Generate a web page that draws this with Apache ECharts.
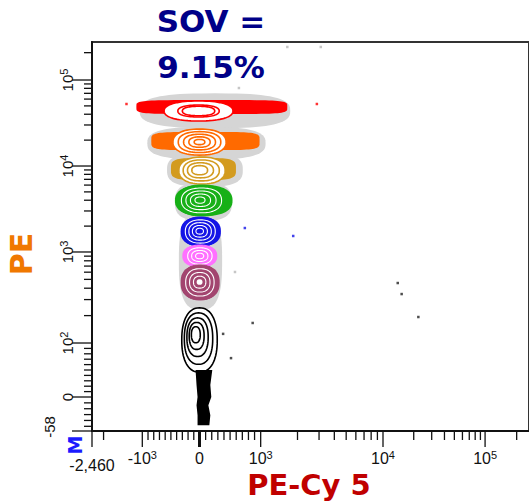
<!DOCTYPE html>
<html><head><meta charset="utf-8">
<script src="https://cdn.jsdelivr.net/npm/echarts@6/dist/echarts.min.js"></script>
<style>html,body{margin:0;padding:0;background:#fff}#c{width:529px;height:502px}</style>
</head><body><div id="c"></div>
<script>
// ================= DATA =================
// populations: modal value and outer-contour / dense-event bounds (PE-Cy 5 = x, PE = y)
const popNames   = ['Red','Orange','Gold','Green','Blue','Pink','Maroon','Black'];
const popModeX   = [-17, 0, -17, 0, 0, 0, 0, -86];
const popModeY   = [43600, 19000, 8980, 4020, 1750, 904, 468, 129];
const contourXLo = [-619, -464, -361, -396, -310, -275, -310, -310];
const contourXHi = [547, 435, 419, 451, 322, 274, 306, 290];
const contourYLo = [33400, 13400, 6180, 2620, 1170, 684, 297, 46];
const contourYHi = [57000, 26900, 12700, 6010, 2550, 1205, 720, 243];
const bandXLo    = [-1112, -843, -499, -430, -330, -300, -330, -310];
const bandXHi    = [1651, 982, 596, 540, 350, 290, 330, 290];
const bandYLo    = [40200, 15300, 6870, 2620, 1170, 684, 297, 46];
const bandYHi    = [58500, 24900, 12400, 6010, 2550, 1205, 720, 243];
// grey (ungated) event clouds
const haloXLo = [-1049, -912, -568, -430, -361];
const haloXHi = [1745, 1097, 708, 531, 370];
const haloYLo = [27500, 11900, 5700, 2300, 231];
const haloYHi = [70000, 28500, 14200, 6400, 2920];
// dense black stem of unstained events (profile: PE level, PE-Cy5 low / high)
const stemY     = [50, 22, 0, -14, -31, -48];
const stemXLeft = [-69, -52, -34, -52, -34, -34];
const stemXRight= [209, 177, 193, 145, 177, 161];
// stray single events
const strayX   = [1651, 3100, 644, 580, 2880, -1327, 741, 1845, 386, 869, 515, 13940, 15230, 22200];
const strayY   = [231000, 231000, 80700, 603, 52600, 52600, 1900, 1535, 126, 166, 72, 456, 345, 193];
const strayPop = ['Grey','Grey','Grey','Grey','Red','Red','Blue','Blue','Black','Black','Black','Black','Black','Black'];
// axis ticks
const xMajorTicks  = [-2460, -1000, 0, 1000, 10000, 100000];
const xMajorLabels = ['-2,460', '-10^3', '0', '10^3', '10^4', '10^5'];
const xMinorTicks  = [-2000, -900, -800, -700, -600, -500, -400, -300, -200, -100,
  100, 200, 300, 400, 500, 600, 700, 800, 900,
  2000, 3000, 4000, 5000, 6000, 7000, 8000, 9000,
  20000, 30000, 40000, 50000, 60000, 70000, 80000, 90000, 200000];
const yMajorTicks  = [-58, 0, 100, 1000, 10000, 100000];
const yMajorLabels = ['-58', '0', '10^2', '10^3', '10^4', '10^5'];
const yMinorTicks  = [-50, -40, -30, -20, -10, 10, 20, 30, 40, 50, 60, 70, 80, 90,
  200, 300, 400, 500, 600, 700, 800, 900,
  2000, 3000, 4000, 5000, 6000, 7000, 8000, 9000,
  20000, 30000, 40000, 50000, 60000, 70000, 80000, 90000, 200000];
// biexponential display scale definition (knot values -> fraction of axis)
const xScaleKnotValues = [-2460, -1000, 0, 1000, 10000, 100000, 262144];
const xScaleKnotFrac   = [0, 0.1151, 0.2460, 0.3860, 0.6659, 0.8995, 1];
const yScaleKnotValues = [-58, 0, 100, 1000, 10000, 100000, 262144];
const yScaleKnotFrac   = [0, 0.0874, 0.2262, 0.4602, 0.6812, 0.9023, 1];

// ================= STYLES =================
const popStyle = {
  Red:    {color:'#ff0000', kind:'open',  rings:[1, 0.6, 0.47], bandN:5},
  Orange: {color:'#ff6a00', kind:'open',  rings:[1, 0.8, 0.6, 0.4, 0.2], bandN:5},
  Gold:   {color:'#d39b1f', kind:'open',  rings:[1, 0.78, 0.56, 0.34], bandN:4},
  Green:  {color:'#17b017', kind:'dense', rings:[0.8, 0.6, 0.4, 0.2], bandN:2.4},
  Blue:   {color:'#1414e6', kind:'dense', rings:[0.8, 0.6, 0.4, 0.2], bandN:2.4},
  Pink:   {color:'#ff70ff', kind:'dense', rings:[0.75, 0.5, 0.25], bandN:2.4},
  Maroon: {color:'#a2456f', kind:'dense', rings:[0.78, 0.56, 0.34], bandN:2.4, hole:0.16},
  Black:  {color:'#000000', kind:'open',  rings:[1, 0.8, 0.6, 0.42, 0.25], bandN:2.2}
};
const strayColor = {Grey:'#b8b8b8', Red:'#ff0000', Blue:'#1414e6', Black:'#222'};
const LABEL_FONT = '"Liberation Sans", Arial, sans-serif';
const AXIS_COLOR = '#111';

// ================= SCALE =================
function makeScale(kv, kf, lin) {
  const u = v => Math.abs(v) <= lin ? v / lin : Math.sign(v) * (1 + Math.log10(Math.abs(v) / lin));
  const ku = kv.map(u);
  return v => {
    const uv = u(v); let i = 0;
    while (i < ku.length - 2 && uv > ku[i + 1]) i++;
    return kf[i] + (uv - ku[i]) / (ku[i + 1] - ku[i]) * (kf[i + 1] - kf[i]);
  };
}
const Tx = makeScale(xScaleKnotValues, xScaleKnotFrac, 1000);
const Ty = makeScale(yScaleKnotValues, yScaleKnotFrac, 100);

function sePts(cx, cy, rx, ry, n) {
  const pts = [];
  for (let k = 0; k < 72; k++) {
    const t = k / 72 * 2 * Math.PI, c = Math.cos(t), s = Math.sin(t);
    pts.push([cx + rx * Math.sign(c) * Math.pow(Math.abs(c), 2 / n),
              cy + ry * Math.sign(s) * Math.pow(Math.abs(s), 2 / n)]);
  }
  return pts;
}
function boxOf(api) {
  const a = api.coord([api.value(0), api.value(3)]);
  const b = api.coord([api.value(1), api.value(2)]);
  return {cx:(a[0]+b[0])/2, cy:(a[1]+b[1])/2, rx:Math.abs(b[0]-a[0])/2, ry:Math.abs(b[1]-a[1])/2};
}

const measureCtx = document.createElement('canvas').getContext('2d');
function textW(t, font) { measureCtx.font = font; return measureCtx.measureText(t).width; }

// label pieces: base + superscript
function labelChildren(lbl, baseSize, supSize) {
  const parts = lbl.split('^');
  const fb = baseSize + 'px ' + LABEL_FONT, fs = supSize + 'px ' + LABEL_FONT;
  const wb = textW(parts[0], fb), ws = parts[1] ? textW(parts[1], fs) : 0;
  const x0 = -(wb + ws) / 2;
  const ch = [{type:'text', style:{text:parts[0], x:x0, y:0, font:fb, fill:'#111',
      align:'left', textAlign:'left', verticalAlign:'bottom', textVerticalAlign:'bottom'}}];
  if (parts[1]) ch.push({type:'text', style:{text:parts[1], x:x0 + wb, y:-6, font:fs, fill:'#111',
      align:'left', textAlign:'left', verticalAlign:'bottom', textVerticalAlign:'bottom'}});
  return ch;
}

const chart = echarts.init(document.getElementById('c'), null, {renderer:'svg'});

const popData = popNames.map((n, i) => [Tx(contourXLo[i]), Tx(contourXHi[i]), Ty(contourYLo[i]), Ty(contourYHi[i]), Tx(popModeX[i]), Ty(popModeY[i])]);
const bandData = popNames.map((n, i) => [Tx(bandXLo[i]), Tx(bandXHi[i]), Ty(bandYLo[i]), Ty(bandYHi[i])]);
const haloData = haloXLo.map((v, i) => [Tx(haloXLo[i]), Tx(haloXHi[i]), Ty(haloYLo[i]), Ty(haloYHi[i])]);
const stemData = stemY.map((v, i) => [Tx(stemXLeft[i]), Tx(stemXRight[i]), Ty(stemY[i])]);
const strayData = strayX.map((v, i) => ({value:[Tx(strayX[i]), Ty(strayY[i])], itemStyle:{color:strayColor[strayPop[i]]}}));
const xTickData = xMajorTicks.map((v, i) => [Tx(v), 0, 1, i, v]).concat(xMinorTicks.map(v => [Tx(v), 0, 0, -1, v]));
const yTickData = yMajorTicks.map((v, i) => [0, Ty(v), 1, i, v]).concat(yMinorTicks.map(v => [0, Ty(v), 0, -1, v]));

const option = {
  animation: false,
  backgroundColor: '#fff',
  grid: {left: 92, top: 42, width: 443, height: 389, show: true, borderColor: '#333', borderWidth: 2, backgroundColor: 'transparent'},
  xAxis: {type:'value', min:0, max:1, axisLine:{show:true, onZero:false, lineStyle:{color:AXIS_COLOR, width:2}},
          axisTick:{show:false}, axisLabel:{show:false}, splitLine:{show:false}},
  yAxis: {type:'value', min:0, max:1, axisLine:{show:true, onZero:false, lineStyle:{color:AXIS_COLOR, width:2}},
          axisTick:{show:false}, axisLabel:{show:false}, splitLine:{show:false}},
  graphic: [
    {type:'text', x:211, y:21, style:{text:'SOV =', font:'bold 31px "DejaVu Sans"', fill:'#000088', align:'center', textAlign:'center', verticalAlign:'middle', textVerticalAlign:'middle'}},
    {type:'text', x:211, y:67, style:{text:'9.15%', font:'bold 31px "DejaVu Sans"', fill:'#000088', align:'center', textAlign:'center', verticalAlign:'middle', textVerticalAlign:'middle'}},
    {type:'text', x:21, y:254, rotation:Math.PI/2, style:{text:'PE', font:'bold 30px "DejaVu Sans"', fill:'#f07800', align:'center', textAlign:'center', verticalAlign:'middle', textVerticalAlign:'middle'}},
    {type:'text', x:309, y:485, style:{text:'PE-Cy 5', font:'bold 29px "DejaVu Sans"', fill:'#c00000', align:'center', textAlign:'center', verticalAlign:'middle', textVerticalAlign:'middle'}},
    {type:'text', x:75, y:445, rotation:Math.PI/2, style:{text:'M', font:'bold 19px "DejaVu Sans"', fill:'#1a1aff', align:'center', textAlign:'center', verticalAlign:'middle', textVerticalAlign:'middle'}}
  ],
  series: [
    { // grey event clouds
      type:'custom', clip:false, data: haloData, encode:{x:[0,1], y:[2,3]},
      renderItem(params, api) {
        const b = boxOf(api);
        return {type:'polygon', shape:{points: sePts(b.cx, b.cy, b.rx, b.ry, 2.8)}, style:{fill:'#d5d5d5', stroke:null}};
      }
    },
    { // coloured dense events
      type:'custom', clip:false, data: bandData, encode:{x:[0,1], y:[2,3]},
      renderItem(params, api) {
        const st = popStyle[popNames[params.dataIndex]];
        const b = boxOf(api);
        return {type:'polygon', shape:{points: sePts(b.cx, b.cy, b.rx, b.ry, st.bandN)}, style:{fill:st.color, stroke:null}};
      }
    },
    { // contour rings
      type:'custom', clip:false, data: popData, encode:{x:[0,1,4], y:[2,3,5]},
      renderItem(params, api) {
        const st = popStyle[popNames[params.dataIndex]];
        const b = boxOf(api);
        const m = api.coord([api.value(4), api.value(5)]);
        const ring = s => sePts(m[0] + s * (b.cx - m[0]), m[1] + s * (b.cy - m[1]), s * b.rx, s * b.ry, 2.3);
        const ch = [];
        if (st.kind === 'open') {
          st.rings.forEach((s, k) => ch.push({type:'polygon', shape:{points: ring(s)},
            style:{fill: k === 0 ? '#fff' : null, stroke: st.color, lineWidth: 1.6}}));
        } else {
          ch.push({type:'polygon', shape:{points: ring(1)}, style:{fill: st.color, stroke: st.color, lineWidth: 1}});
          st.rings.forEach(s => ch.push({type:'polygon', shape:{points: ring(s)}, style:{fill: null, stroke:'#fff', lineWidth: 1.1}}));
          if (st.hole) ch.push({type:'polygon', shape:{points: ring(st.hole)}, style:{fill:'#fff', stroke:null}});
        }
        return {type:'group', children: ch};
      }
    },
    { // black stem of negative events
      type:'custom', clip:false, data: [[0]],
      renderItem(params, api) {
        const left = stemData.map(r => api.coord([r[0], r[2]]));
        const right = stemData.map(r => api.coord([r[1], r[2]])).reverse();
        return {type:'polygon', shape:{points: left.concat(right)}, style:{fill:'#000', stroke:null}};
      }
    },
    { type:'scatter', data: strayData, symbol:'rect', symbolSize:2.5, silent:true },
    { // x ticks & labels
      type:'custom', clip:false, data: xTickData, encode:{x:0, y:1}, z:10,
      renderItem(params, api) {
        const p = api.coord([api.value(0), 0]);
        const major = api.value(2) === 1, idx = api.value(3), v = api.value(4);
        const ch = [{type:'line', shape:{x1:p[0], y1:p[1], x2:p[0], y2:p[1] + (major ? 16 : 9)},
          style:{stroke:AXIS_COLOR, lineWidth: v === 0 ? 3 : 1.3}}];
        if (major) {
          const top = idx === 0 ? 473 : 466;
          ch.push({type:'group', x:p[0], y:top, children: labelChildren(xMajorLabels[idx], 16, 11)});
        }
        return {type:'group', children: ch};
      }
    },
    { // y ticks & labels
      type:'custom', clip:false, data: yTickData, encode:{x:0, y:1}, z:10,
      renderItem(params, api) {
        const p = api.coord([0, api.value(1)]);
        const major = api.value(2) === 1, idx = api.value(3);
        const ch = [{type:'line', shape:{x1:p[0], y1:p[1], x2:p[0] - (major ? 20 : 8), y2:p[1]},
          style:{stroke:AXIS_COLOR, lineWidth:1.3}}];
        if (major) {
          const gx = idx === 0 ? 57 : 75, gy = idx === 0 ? p[1] - 4 : p[1];
          ch.push({type:'group', x:gx, y:gy, rotation:Math.PI/2, children: labelChildren(yMajorLabels[idx], 15, 11)});
        }
        return {type:'group', children: ch};
      }
    }
  ]
};
chart.setOption(option);
</script></body></html>
